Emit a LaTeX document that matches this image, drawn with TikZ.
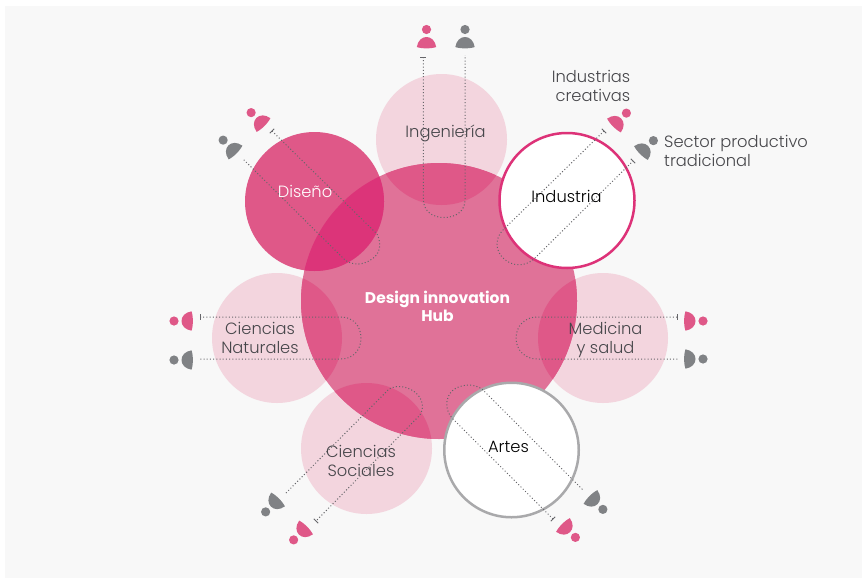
\documentclass[tikz,border=0pt]{standalone}
\usepackage{fontspec}
\usetikzlibrary{calc}
\setmainfont{Poppins}[UprightFont=* Light,BoldFont=* Bold]
\definecolor{bgc}{HTML}{F8F8F8}
\definecolor{hubc}{HTML}{E07298}
\definecolor{palec}{HTML}{F3D5DE}
\definecolor{midc}{HTML}{DF5888}
\definecolor{deepc}{HTML}{DC3479}
\definecolor{ringc}{HTML}{DD3278}
\definecolor{greyc}{HTML}{808285}
\definecolor{ringg}{HTML}{A9A9AB}
\definecolor{inkc}{HTML}{46464A}
\definecolor{dotc}{HTML}{66666A}
\tikzset{
  x=1pt,y=-1pt,
  lbl/.style={font=\fontsize{16.3}{18.7}\selectfont,align=center,text=inkc,inner sep=0pt},
  dotline/.style={draw=dotc,line width=1pt,dash pattern=on 1pt off 2.2pt},
  tickmark/.style={draw=dotc,line width=0.9pt},
  pics/person/.style={code={
    \fill[#1] (0,-17.5) circle[radius=4.6];
    \fill[#1] (-9.7,0) .. controls (-8.6,-6.5) and (-4.6,-10) .. (0,-10)
       .. controls (4.6,-10) and (8.6,-6.5) .. (9.7,0)
       .. controls (5,1.8) and (-5,1.8) .. (-9.7,0) -- cycle;
  }}
}
\newcommand{\hubpath}{(439,301) circle[radius=138]}
\begin{document}
\begin{tikzpicture}
\useasboundingbox (0,0) rectangle (866,581);
\fill[white] (0,0) rectangle (866,581);
\fill[bgc] (5,6) rectangle (862,578);
% pale circles
\fill[palec] (441.5,139.5) circle[radius=65.5];
\fill[palec] (277,338) circle[radius=65];
\fill[palec] (603,338) circle[radius=65];
\fill[palec] (366.5,448.5) circle[radius=65.5];
% hub
\fill[hubc] \hubpath;
% diseno
\fill[midc] (314.5,201.5) circle[radius=69.5];
% overlaps
\begin{scope}\clip \hubpath;
  \fill[midc] (441.5,139.5) circle[radius=65.5];
  \fill[midc] (277,338) circle[radius=65];
  \fill[midc] (603,338) circle[radius=65];
  \fill[midc] (366.5,448.5) circle[radius=65.5];
  \fill[deepc] (314.5,201.5) circle[radius=69.5];
\end{scope}
% white rings
\node[circle,draw=ringc,fill=white,line width=2.5pt,minimum size=135pt,inner sep=0pt] (ind) at (567,200.5) {};
\node[circle,draw=ringg,fill=white,line width=2.5pt,minimum size=134.5pt,inner sep=0pt] (art) at (511.5,450) {};
% free ends
\coordinate (ingA) at (423.3,57);
\coordinate (ingB) at (465,55);
\coordinate (indA) at (604,131);
\coordinate (indB) at (633,161);
\coordinate (disA) at (272,131);
\coordinate (disB) at (243,159);
\coordinate (natA) at (200,317);
\coordinate (natB) at (199,359);
\coordinate (medA) at (677,317);
\coordinate (medB) at (678,359);
\coordinate (socA) at (316,521);
\coordinate (socB) at (286,493);
\coordinate (artA) at (553,519);
\coordinate (artB) at (583,490);
% dotted connectors
\draw[dotline] (ingA) -- (423.3,200) .. controls (424,211) and (432,217.5) .. (444,217.5) .. controls (456,217.5) and (465,211) .. (465,200) -- (ingB);
\draw[dotline] (indA) -- (503,230) .. controls (495,238) and (495,250) .. (503,258) .. controls (512,267) and (526,267) .. (535,258) -- (indB);
\draw[dotline] (disA) -- (377,234) .. controls (382,244) and (380,254) .. (372,259) .. controls (364,265) and (353,266) .. (345,260) -- (disB);
\draw[dotline] (natA) -- (341,317) .. controls (353,317) and (361,326) .. (361,338) .. controls (361,350) and (353,359) .. (341,359) -- (natB);
\draw[dotline] (medA) -- (537,317) .. controls (525,317) and (516,326) .. (516,338) .. controls (516,350) and (525,359) .. (537,359) -- (medB);
\draw[dotline] (socB) -- (389,389) .. controls (398,384) and (410,387) .. (417,394) .. controls (423,400) and (424,409) .. (420,415) -- (socA);
\draw[dotline] (artA) -- (452,418) .. controls (445,410) and (445,398) .. (452,391) .. controls (460,384) and (473,383) .. (482,389) -- (artB);
% ticks
\draw[tickmark] ($(ingA)+(-3,0)$) -- ($(ingA)+(3,0)$);
\draw[tickmark] ($(indA)+(-2.2,-2.2)$) -- ($(indA)+(2.2,2.2)$);
\draw[tickmark] ($(indB)+(-2.2,-2.2)$) -- ($(indB)+(2.2,2.2)$);
\draw[tickmark] ($(disA)+(-2.2,2.2)$) -- ($(disA)+(2.2,-2.2)$);
\draw[tickmark] ($(natA)+(0,-3)$) -- ($(natA)+(0,3)$);
\draw[tickmark] ($(medA)+(0,-3)$) -- ($(medA)+(0,3)$);
\draw[tickmark] ($(socA)+(-2.2,-2.2)$) -- ($(socA)+(2.2,2.2)$);
\draw[tickmark] ($(artA)+(-2.2,2.2)$) -- ($(artA)+(2.2,-2.2)$);
% people
\pic at (426.5,47) {person=midc};
\pic at (465,47) {person=greyc};
\pic[rotate=-45] at (614,125.5) {person=midc};
\pic[rotate=-45] at (641,153) {person=greyc};
\pic[rotate=45] at (263.5,125) {person=midc};
\pic[rotate=45] at (235.5,152.5) {person=greyc};
\pic[rotate=90] at (191.5,321) {person=midc};
\pic[rotate=90] at (191.5,360) {person=greyc};
\pic[rotate=-90] at (685.5,321) {person=midc};
\pic[rotate=-90] at (685.5,359) {person=greyc};
\pic[rotate=135] at (278,499.5) {person=greyc};
\pic[rotate=135] at (306,527.5) {person=midc};
\pic[rotate=-135] at (563,525) {person=midc};
\pic[rotate=-135] at (590.5,497) {person=greyc};
% labels
\node[lbl] (lIng) at (445.5,133) {Ingeniería};
\node[lbl,text=white] (lDis) at (305,191) {Diseño};
\node[lbl,text=black] (lInd) at (566.5,196) {Industria};
\node[lbl,text=black] (lArt) at (508.5,447) {Artes};
\node[lbl] (lNat) at (260,338) {Ciencias\\Naturales};
\node[lbl] (lMed) at (605.5,340) {Medicina\\y salud};
\node[lbl] (lSoc) at (361,461) {Ciencias\\Sociales};
\node[lbl,text=white,font=\fontsize{15.5}{18}\selectfont\bfseries] (lHub) at (437.5,306) {Design innovation\\Hub};
\node[lbl,align=right,anchor=east] (lCre) at (630.5,86) {Industrias\\creativas};
\node[lbl,align=left,anchor=west] (lSec) at (664,151) {Sector productivo\\tradicional};
\end{tikzpicture}
\end{document}
